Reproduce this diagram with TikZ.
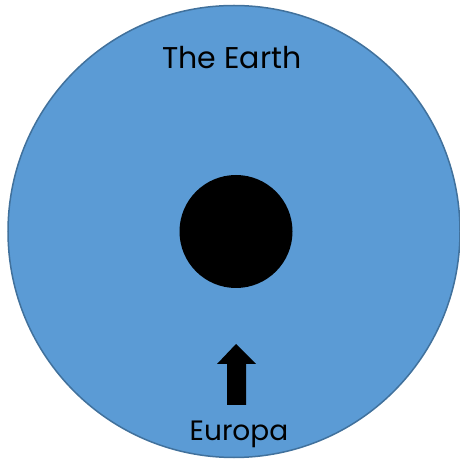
\documentclass[tikz,border=0pt]{standalone}
\usepackage{fontspec}
\setmainfont{Poppins}
\usetikzlibrary{positioning}

\definecolor{earthblue}{HTML}{5B9BD5}
\definecolor{earthline}{HTML}{41719C}

\begin{document}
\begin{tikzpicture}[x=1pt, y=1pt]
\useasboundingbox (0,0) rectangle (460,461);
\begin{scope}[every node/.style={inner sep=0pt, anchor=base}]

\fill [earthblue] (234,229.5) circle (226);
\draw [earthline, line width=1.5pt] (234,229.5) circle (226);
\fill [black] (236,229.5) circle (56.5);
\fill [black] (236,117) -- (256,97) -- (246,97) -- (246,56)
  -- (227,56) -- (227,97) -- (217,97) -- cycle;

\node [font=\fontsize{30}{34}\selectfont] (earth) at (232,392) {The Earth};
\node [font=\fontsize{28}{32}\selectfont] (europa) at (239,20) {Europa};
\end{scope}
\end{tikzpicture}
\end{document}
